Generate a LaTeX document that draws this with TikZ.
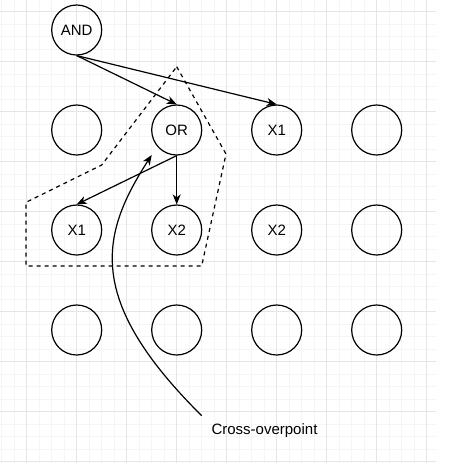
\documentclass[tikz,border=0pt]{standalone}
\usepackage{fontspec}
\setmainfont{Liberation Sans}
\usepackage{xcolor}
\definecolor{gridMinor}{rgb}{0.96,0.96,0.96}
\definecolor{gridMajor}{rgb}{0.9,0.9,0.9}
\usetikzlibrary{arrows.meta}
\tikzset{
  vert/.style={draw,circle,line width=1.2pt,minimum size=50pt,inner sep=0pt,
    font=\fontsize{15}{18}\selectfont},
  link/.style={line width=1.2pt,-{Stealth[length=10pt,width=8pt,inset=3pt]}},
  region/.style={line width=1.2pt,dash pattern=on 4pt off 4pt},
}

\begin{document}
\begin{tikzpicture}[x=1pt,y=-1pt]
\useasboundingbox (0,0) rectangle (451,472);
% grid
\foreach \gx in {1.7,14.2,...,436} \draw[gridMinor,line width=0.7pt] (\gx,0) -- (\gx,463.3);
\foreach \gy in {11.7,24.2,...,463} \draw[gridMinor,line width=0.7pt] (0,\gy) -- (436,\gy);
\foreach \gx in {26.7,76.7,...,436} \draw[gridMajor,line width=0.8pt] (\gx,0) -- (\gx,463.3);
\foreach \gy in {11.7,61.7,...,463} \draw[gridMajor,line width=0.8pt] (0,\gy) -- (436,\gy);
%
\node[vert] (and) at (76.7,30) {AND};
\node[vert] (e11) at (76.7,130) {};
\node[vert] (or) at (176.7,130) {OR};
\node[vert] (x1a) at (276.7,130) {X1};
\node[vert] (e14) at (376.7,130) {};
\node[vert] (x1b) at (76.7,230) {X1};
\node[vert] (x2b) at (176.7,230) {X2};
\node[vert] (x2c) at (276.7,230) {X2};
\node[vert] (e24) at (376.7,230) {};
\node[vert] (e31) at (76.7,330) {};
\node[vert] (e32) at (176.7,330) {};
\node[vert] (e33) at (276.7,330) {};
\node[vert] (e34) at (376.7,330) {};
%
\draw[link] (and.south) -- (or.north);
\draw[link] (and.south) -- (x1a.north);
\draw[link] (or.south) -- (x1b.north);
\draw[link] (or.south) -- (x2b.north);
%
\draw[region] (176.7,66.7) -- (226,154) -- (201.7,266) -- (26,266) -- (26,202.3)
      -- (101.7,165) -- cycle;
%
\node[font=\fontsize{15}{18}\selectfont] (note) at (264.5,430.7) {Cross-overpoint};
\coordinate (tail) at (201.7,415.7);
\coordinate (cross) at (151.7,155);
\draw[link] (tail) .. controls (85,300) and (100,235) .. (cross);
\end{tikzpicture}
\end{document}
